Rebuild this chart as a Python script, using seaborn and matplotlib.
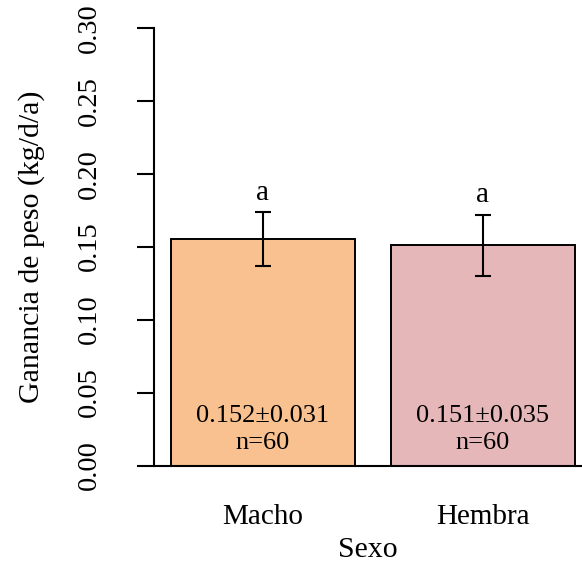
import numpy as np
import pandas as pd
import seaborn as sns
import matplotlib.pyplot as plt

# valores
sexo = ['Macho', 'Hembra']
ganancia = [0.155, 0.151]          # altura de las barras (kg/d/a)
error = [0.0185, 0.021]            # semiamplitud de las barras de error
media_txt = [0.152, 0.151]         # media anotada
de_txt = [0.031, 0.035]            # desviacion anotada
n_txt = [60, 60]
letras = ['a', 'a']
colores = ['#F8C18F', '#E5B7B8']
yticks = [0.00, 0.05, 0.10, 0.15, 0.20, 0.25, 0.30]

df = pd.DataFrame({'Sexo': sexo, 'Ganancia': ganancia})

sns.set_theme(style='white', rc={'text.color': 'black', 'axes.labelcolor': 'black',
                                 'xtick.color': 'black', 'ytick.color': 'black'})
plt.rcParams['font.family'] = ['Liberation Serif', 'DejaVu Serif']

fig = plt.figure(figsize=(5.82, 5.62), dpi=100)
ax = fig.add_axes([0.2651, 0.1717, 0.7349, 0.779])

sns.barplot(data=df, x='Sexo', y='Ganancia', hue='Sexo', palette=colores,
            saturation=1, width=0.8375, edgecolor='black', linewidth=1.4,
            errorbar=None, legend=False, ax=ax)
ax.errorbar(x=np.arange(len(sexo)), y=ganancia, yerr=error, fmt='none',
            ecolor='black', elinewidth=1.5, capsize=6, capthick=1.5,
            clip_on=False)

for i in range(len(sexo)):
    ax.text(i, ganancia[i] + error[i] + 0.0135, letras[i], ha='center',
            va='center', fontsize=21)
    ax.text(i, 0.034, f'{media_txt[i]:.3f}±{de_txt[i]:.3f}', ha='center',
            va='center', fontsize=19)
    ax.text(i, 0.0152, f'n={n_txt[i]}', ha='center', va='center', fontsize=19)

ax.axhline(0, color='black', lw=1.5, clip_on=False)

ax.set_xlim(-0.4948, 1.452)
ax.set_ylim(0, 0.30)
ax.set_yticks(yticks)
ax.set_yticklabels([f'{v:.2f}' for v in yticks], rotation=90, va='center',
                   fontsize=20.5)
ax.tick_params(axis='y', left=True, length=12, width=1.5, pad=26)
ax.tick_params(axis='x', bottom=False, labelsize=21, pad=22)

for s in ['top', 'right', 'bottom']:
    ax.spines[s].set_visible(False)
ax.spines['left'].set_color('black')
ax.spines['left'].set_linewidth(1.5)

ax.set_xlabel('Sexo', fontsize=21.5, labelpad=4.5)
ax.set_ylabel('Ganancia de peso (kg/d/a)', fontsize=21.5, labelpad=23)

fig.savefig('out.png', dpi=100)
